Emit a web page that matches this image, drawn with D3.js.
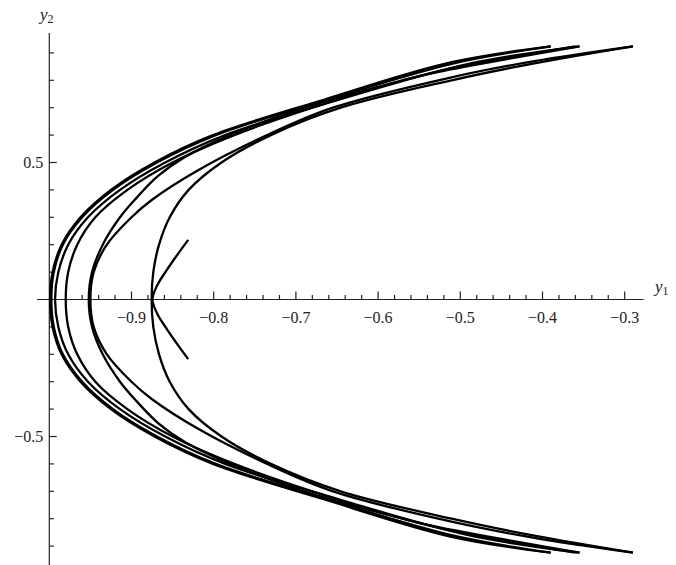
<!DOCTYPE html>
<html>
<head>
<meta charset="utf-8">
<script src="https://cdn.jsdelivr.net/npm/d3@7"></script>
<style>
  body { margin: 0; background: #fff; }
</style>
</head>
<body>
<div id="chart"></div>
<script>
// trajectories, [y1, y2], bottom end -> top end
const curve1 = [[-0.39,-0.924],[-0.512,-0.865],[-0.665,-0.73],[-0.801,-0.6],[-0.872,-0.5],[-0.925,-0.4],[-0.962,-0.3],[-0.985,-0.2],[-0.996,-0.1],[-0.999,0],[-0.996,0.1],[-0.985,0.2],[-0.962,0.3],[-0.925,0.4],[-0.872,0.5],[-0.801,0.6],[-0.665,0.73],[-0.512,0.865],[-0.39,0.924]];
const curve2 = [[-0.39,-0.924],[-0.508,-0.862],[-0.661,-0.73],[-0.7975,-0.6],[-0.869,-0.5],[-0.9225,-0.4],[-0.96,-0.3],[-0.9835,-0.2],[-0.9945,-0.1],[-0.9975,0],[-0.9945,0.1],[-0.9835,0.2],[-0.96,0.3],[-0.9225,0.4],[-0.869,0.5],[-0.7975,0.6],[-0.661,0.73],[-0.508,0.862],[-0.39,0.924]];
const curve3 = [[-0.355,-0.924],[-0.49,-0.86],[-0.647,-0.73],[-0.786,-0.6],[-0.859,-0.5],[-0.914,-0.4],[-0.953,-0.3],[-0.977,-0.2],[-0.989,-0.1],[-0.993,0],[-0.989,0.1],[-0.977,0.2],[-0.953,0.3],[-0.914,0.4],[-0.859,0.5],[-0.786,0.6],[-0.647,0.73],[-0.49,0.86],[-0.355,0.924]];
const curve4 = [[-0.36,-0.924],[-0.512,-0.843],[-0.57,-0.8],[-0.68,-0.7],[-0.775,-0.6],[-0.85,-0.5],[-0.905,-0.4],[-0.944,-0.3],[-0.966,-0.2],[-0.977,-0.1],[-0.98,0],[-0.977,0.1],[-0.966,0.2],[-0.944,0.3],[-0.905,0.4],[-0.85,0.5],[-0.775,0.6],[-0.68,0.7],[-0.57,0.8],[-0.512,0.843],[-0.36,0.924]];
const curve5 = [[-0.355,-0.924],[-0.528,-0.83],[-0.57,-0.8],[-0.69,-0.7],[-0.78,-0.6],[-0.835,-0.52],[-0.868,-0.45],[-0.896,-0.364],[-0.914,-0.3],[-0.935,-0.2],[-0.948,-0.1],[-0.952,0],[-0.948,0.1],[-0.935,0.2],[-0.914,0.3],[-0.896,0.364],[-0.868,0.45],[-0.835,0.52],[-0.78,0.6],[-0.69,0.7],[-0.57,0.8],[-0.528,0.83],[-0.355,0.924]];
const curve6 = [[-0.29,-0.924],[-0.41,-0.87],[-0.512,-0.81],[-0.655,-0.7],[-0.735,-0.6],[-0.82,-0.47],[-0.875,-0.364],[-0.9,-0.3],[-0.93,-0.2],[-0.946,-0.1],[-0.95,0],[-0.946,0.1],[-0.93,0.2],[-0.9,0.3],[-0.875,0.364],[-0.82,0.47],[-0.735,0.6],[-0.655,0.7],[-0.512,0.81],[-0.41,0.87],[-0.29,0.924]];
const curve7 = [[-0.29,-0.924],[-0.41,-0.862],[-0.5105,-0.8],[-0.6455,-0.7],[-0.7305,-0.6],[-0.7905,-0.5],[-0.8305,-0.4],[-0.8535,-0.3],[-0.8665,-0.2],[-0.8735,-0.1],[-0.8755,0],[-0.8735,0.1],[-0.8665,0.2],[-0.8535,0.3],[-0.8305,0.4],[-0.7905,0.5],[-0.7305,0.6],[-0.6455,0.7],[-0.5105,0.8],[-0.41,0.862],[-0.29,0.924]];
const curve8 = [[-0.831,-0.2175],[-0.845,-0.16],[-0.857,-0.108],[-0.869,-0.05],[-0.8745,0],[-0.869,0.05],[-0.857,0.108],[-0.845,0.16],[-0.831,0.2175]];

const curves = [curve1, curve2, curve3, curve4, curve5, curve6, curve7, curve8];

// tick values
const xMajor = [-0.9, -0.8, -0.7, -0.6, -0.5, -0.4, -0.3];
const xMinor = [-0.98, -0.96, -0.94, -0.92, -0.88, -0.86, -0.84, -0.82, -0.78, -0.76, -0.74, -0.72,
                -0.68, -0.66, -0.64, -0.62, -0.58, -0.56, -0.54, -0.52, -0.48, -0.46, -0.44, -0.42,
                -0.38, -0.36, -0.34, -0.32];
const yMajor = [0.5, -0.5];
const yMinor = [0.9, 0.8, 0.7, 0.6, 0.4, 0.3, 0.2, 0.1, -0.1, -0.2, -0.3, -0.4, -0.6, -0.7, -0.8, -0.9];

const width = 676, height = 565;
const serif = "'Liberation Serif', 'Times New Roman', 'DejaVu Serif', serif";

const svg = d3.select("#chart").append("svg")
    .attr("width", width)
    .attr("height", height);

const x = d3.scaleLinear().domain([-1, -0.3]).range([49.3, 624.7]);
const y = d3.scaleLinear().domain([-0.5, 0.5]).range([436.5, 162.5]);

const fmt = d3.format(".1f");

// axes
const ax = svg.append("g").attr("stroke", "#222").attr("stroke-width", 1.2);

ax.append("line")
    .attr("x1", x(-1.015)).attr("x2", x(-0.277))
    .attr("y1", y(0)).attr("y2", y(0));
ax.append("line")
    .attr("x1", x(-1)).attr("x2", x(-1))
    .attr("y1", y(0.973)).attr("y2", height);

ax.selectAll(".xmaj").data(xMajor).enter().append("line")
    .attr("x1", d => x(d)).attr("x2", d => x(d))
    .attr("y1", y(0)).attr("y2", y(0) - 8);
ax.selectAll(".xmin").data(xMinor).enter().append("line")
    .attr("x1", d => x(d)).attr("x2", d => x(d))
    .attr("y1", y(0)).attr("y2", y(0) - 4.5);
ax.selectAll(".ymaj").data(yMajor).enter().append("line")
    .attr("x1", x(-1)).attr("x2", x(-1) + 7.5)
    .attr("y1", d => y(d)).attr("y2", d => y(d));
ax.selectAll(".ymin").data(yMinor).enter().append("line")
    .attr("x1", x(-1)).attr("x2", x(-1) + 4.5)
    .attr("y1", d => y(d)).attr("y2", d => y(d));

svg.selectAll(".xlab").data(xMajor).enter().append("text")
    .attr("x", d => x(d))
    .attr("y", y(0) + 23)
    .attr("text-anchor", "middle")
    .attr("font-family", serif)
    .attr("font-size", "16px")
    .attr("fill", "#222")
    .text(d => fmt(d));

svg.selectAll(".ylab").data(yMajor).enter().append("text")
    .attr("x", x(-1) - 6)
    .attr("y", d => y(d) + 5.5)
    .attr("text-anchor", "end")
    .attr("font-family", serif)
    .attr("font-size", "16px")
    .attr("fill", "#222")
    .text(d => fmt(d));

// axis names
const lab2 = svg.append("text").attr("x", 40).attr("y", 20)
    .attr("font-family", serif).attr("font-size", "17px").attr("fill", "#222");
lab2.append("tspan").attr("font-style", "italic").text("y");
lab2.append("tspan").attr("font-size", "12px").attr("dy", 3).text("2");

const lab1 = svg.append("text").attr("x", 655).attr("y", 292)
    .attr("font-family", serif).attr("font-size", "17px").attr("fill", "#222");
lab1.append("tspan").attr("font-style", "italic").text("y");
lab1.append("tspan").attr("font-size", "12px").attr("dy", 3).text("1");

// trajectories
const line = d3.line()
    .x(d => x(d[0]))
    .y(d => y(d[1]))
    .curve(d3.curveCatmullRom.alpha(0.5));

svg.append("g").selectAll("path")
    .data(curves)
    .enter().append("path")
    .attr("d", line)
    .attr("fill", "none")
    .attr("stroke", "#000")
    .attr("stroke-width", 2.3);
</script>
</body>
</html>
